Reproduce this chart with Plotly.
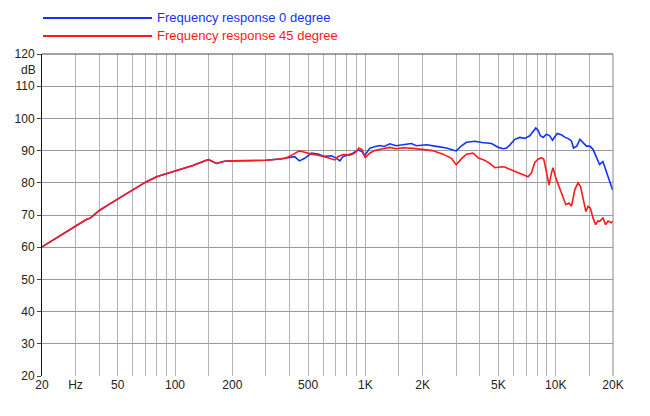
import plotly.graph_objects as go

# ---------------- data ----------------
freq_0deg = [20, 25, 30, 34, 36, 40, 45, 50, 60, 70, 80, 90, 100, 124, 146, 150, 165, 182, 200,
             247, 300, 355, 400, 425, 450, 480, 521, 564, 610, 664, 705, 735, 764, 810, 860,
             916, 960, 990, 1054, 1115, 1190, 1256, 1343, 1450, 1577, 1746, 1853, 2095, 2364,
             2667, 3000, 3200, 3397, 3757, 4100, 4596, 4800, 5000, 5300, 5513, 5738, 6100,
             6470, 6880, 7310, 7600, 7860, 8080, 8310, 8590, 8940, 9310, 9620, 9890, 10200,
             10700, 11200, 11600, 12100, 12400, 12900, 13400, 13900, 14500, 15100, 15700,
             16400, 17000, 17700, 18500, 19200, 19870, 20000]
spl_0deg = [60.1, 63.6, 66.7, 68.5, 69.1, 71.4, 73.3, 75.0, 77.9, 80.2, 81.9, 82.8, 83.8, 85.4,
            87.0, 87.2, 86.0, 86.7, 86.8, 87.0, 87.0, 87.4, 87.8, 88.1, 86.8, 87.6, 89.2,
            88.9, 88.2, 88.4, 87.6, 86.8, 88.2, 88.8, 89.2, 90.2, 89.7, 88.4, 90.7, 91.2,
            91.6, 91.3, 92.1, 91.5, 91.8, 92.2, 91.5, 91.8, 91.3, 90.8, 89.9, 91.5, 92.6,
            92.9, 92.5, 92.2, 91.6, 91.0, 90.6, 90.8, 91.7, 93.5, 94.1, 93.8, 94.6, 96.1,
            97.0, 96.3, 94.6, 94.1, 95.1, 94.6, 93.2, 94.3, 95.3, 94.9, 94.1, 93.8, 93.0,
            90.8, 91.4, 93.5, 92.5, 91.4, 91.4, 90.4, 87.8, 85.7, 86.6, 83.6, 80.5, 77.9,
            77.8]

freq_45deg = [20, 25, 30, 34, 36, 40, 45, 50, 60, 70, 80, 90, 100, 124, 146, 150, 165, 182, 200,
              247, 300, 355, 380, 410, 450, 480, 521, 564, 600, 636, 690, 720, 764, 830, 880,
              925, 960, 1000, 1054, 1115, 1220, 1343, 1450, 1577, 1780, 2000, 2250, 2560,
              2834, 3000, 3200, 3397, 3680, 3950, 4200, 4470, 4800, 5200, 5400, 5738, 6100,
              6470, 6880, 7160, 7460, 7760, 8080, 8420, 8660, 8940, 9230, 9500, 9680, 10000,
              10400, 10860, 11300, 11750, 12100, 12600, 13100, 13500, 13900, 14400, 14800,
              15200, 15700, 16200, 16700, 17000, 17700, 18300, 18850, 19600, 20000]
spl_45deg = [60.1, 63.6, 66.7, 68.5, 69.1, 71.4, 73.3, 75.0, 77.9, 80.2, 81.9, 82.8, 83.8, 85.4,
             87.0, 87.2, 86.0, 86.7, 86.8, 87.0, 87.0, 87.4, 87.6, 88.6, 89.9, 89.5, 88.9,
             88.6, 88.3, 87.8, 87.1, 88.2, 88.8, 88.6, 89.2, 90.8, 90.3, 87.8, 89.2, 90.0,
             90.5, 91.0, 90.6, 90.9, 90.7, 90.3, 90.0, 88.9, 87.6, 85.6, 87.5, 88.9, 89.2,
             87.6, 87.1, 86.2, 84.7, 85.0, 84.9, 84.2, 83.6, 83.1, 82.4, 81.9, 83.1, 86.3,
             87.3, 87.8, 87.3, 83.6, 79.3, 83.1, 84.7, 81.6, 78.9, 75.3, 73.2, 73.7, 72.7,
             77.9, 80.0, 78.9, 75.3, 71.1, 72.7, 72.2, 69.1, 67.0, 68.2, 68.0, 69.1, 67.0,
             68.1, 67.6, 68.1]

series_names = ["Frequency response 0 degree", "Frequency response 45 degree"]
series_colors = ["#1432ff", "#ff1a1a"]

x_grid = [20, 30, 40, 50, 60, 70, 80, 90, 100, 150, 200, 300, 400, 500, 600, 700, 800, 900,
          1000, 1500, 2000, 3000, 4000, 5000, 6000, 7000, 8000, 9000, 10000, 15000, 20000]
x_labels = {20: "20", 30: "Hz", 50: "50", 100: "100", 200: "200", 500: "500", 1000: "1K",
            2000: "2K", 5000: "5K", 10000: "10K", 20000: "20K"}
y_ticks = [20, 30, 40, 50, 60, 70, 80, 90, 100, 110, 120]

# ---------------- figure ----------------
W, H = 650, 416
ML, MR, MT, MB = 42, 37, 54, 40
ph = H - MT - MB

fig = go.Figure()
fig.add_trace(go.Scatter(x=freq_0deg, y=spl_0deg, mode="lines", name=series_names[0],
                         line=dict(color=series_colors[0], width=1.6), showlegend=False))
fig.add_trace(go.Scatter(x=freq_45deg, y=spl_45deg, mode="lines", name=series_names[1],
                         line=dict(color=series_colors[1], width=1.6), showlegend=False))

font = dict(family="Liberation Sans, Arial, sans-serif", size=12, color="#222222")

fig.update_layout(
    width=W, height=H,
    margin=dict(l=ML, r=MR, t=MT, b=MB, autoexpand=False),
    paper_bgcolor="white", plot_bgcolor="white",
    font=font,
    xaxis=dict(type="log", range=[1.30103, 4.30103], tickvals=x_grid,
               ticktext=[x_labels.get(v, "") for v in x_grid],
               showgrid=True, gridcolor="#b4b4b4", gridwidth=1, automargin=False,
               showline=False, zeroline=False, ticks="", tickfont=font),
    yaxis=dict(range=[20, 120], tickvals=y_ticks, showgrid=True, gridcolor="#9a9a9a",
               gridwidth=1, showline=True, linecolor="#111111", linewidth=1,
               automargin=False,
               ticks="outside", ticklen=4, tickcolor="#444444", zeroline=False,
               tickfont=font),
)

# top and right frame lines
fig.add_shape(type="line", xref="paper", yref="paper", x0=0, x1=1, y0=1, y1=1,
              line=dict(color="#444444", width=1))
fig.add_shape(type="line", xref="paper", yref="paper", x0=1, x1=1, y0=0, y1=1,
              line=dict(color="#888888", width=1))

# "dB" unit label
fig.add_annotation(text="dB", xref="paper", yref="y", x=0, y=115, xanchor="right",
                   xshift=-4, showarrow=False, font=font)

# custom legend at top
def py(px):
    return (H - MB - px) / ph

def pxx(px):
    return (px - ML) / (W - ML - MR)

legend_y = [18, 36]
for i in range(2):
    fig.add_shape(type="line", xref="paper", yref="paper",
                  x0=pxx(43), x1=pxx(152), y0=py(legend_y[i]), y1=py(legend_y[i]),
                  line=dict(color=series_colors[i], width=2))
    fig.add_annotation(text=series_names[i], xref="paper", yref="paper",
                       x=pxx(155), y=py(legend_y[i] - 1), xanchor="left", yanchor="middle",
                       showarrow=False,
                       font=dict(family="Liberation Sans, Arial, sans-serif", size=13,
                                 color=series_colors[i]))

fig.write_html("out.html", config={"displayModeBar": False},
               post_script="document.body.style.margin='0';document.body.style.padding='0';")
